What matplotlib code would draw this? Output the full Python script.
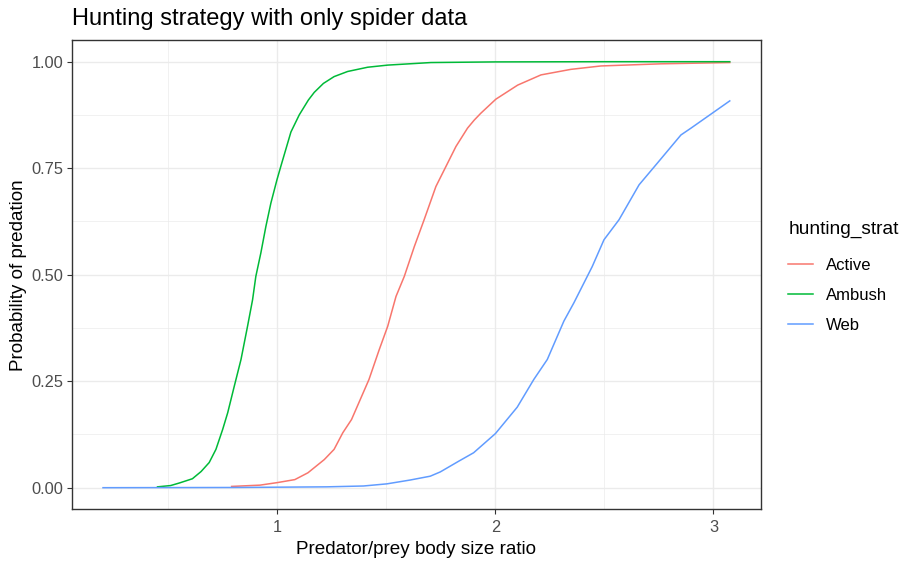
import matplotlib
matplotlib.use("Agg")
import matplotlib.pyplot as plt
from matplotlib.ticker import MultipleLocator, FormatStrFormatter

plt.rcParams['font.family'] = ['Liberation Sans', 'DejaVu Sans']

# values
active_x = [0.79, 0.92, 1.00, 1.08, 1.14, 1.215, 1.26, 1.30, 1.34, 1.38, 1.42, 1.467,
            1.506, 1.544, 1.582, 1.628, 1.673, 1.727, 1.773, 1.819, 1.872, 1.903,
            1.933, 2.002, 2.102, 2.209, 2.346, 2.484, 2.759, 3.075]
active_y = [0.003, 0.006, 0.012, 0.019, 0.035, 0.066, 0.090, 0.129, 0.160, 0.207, 0.254,
            0.324, 0.379, 0.449, 0.496, 0.566, 0.629, 0.707, 0.754, 0.801, 0.844,
            0.863, 0.879, 0.912, 0.945, 0.969, 0.982, 0.990, 0.995, 0.998]

ambush_x = [0.45, 0.51, 0.55, 0.61, 0.65, 0.687, 0.718, 0.749, 0.772, 0.802, 0.833,
            0.863, 0.886, 0.901, 0.924, 0.947, 0.970, 0.998, 1.016, 1.062, 1.100,
            1.142, 1.169, 1.211, 1.260, 1.322, 1.414, 1.506, 1.704, 2.0, 2.5, 3.075]
ambush_y = [0.002, 0.005, 0.011, 0.021, 0.038, 0.059, 0.090, 0.137, 0.176, 0.238, 0.301,
            0.379, 0.441, 0.496, 0.551, 0.613, 0.668, 0.723, 0.755, 0.835, 0.875,
            0.910, 0.928, 0.949, 0.965, 0.977, 0.987, 0.992, 0.998, 0.9995, 1.0, 1.0]

web_x = [0.20, 0.80, 1.226, 1.395, 1.502, 1.609, 1.701, 1.747, 1.831, 1.900, 2.000,
         2.100, 2.176, 2.238, 2.314, 2.360, 2.444, 2.498, 2.567, 2.659, 2.743,
         2.851, 2.897, 3.075]
web_y = [0.0, 0.0005, 0.002, 0.004, 0.009, 0.018, 0.027, 0.037, 0.062, 0.082, 0.127,
         0.189, 0.254, 0.301, 0.391, 0.434, 0.519, 0.582, 0.629, 0.711, 0.762,
         0.828, 0.844, 0.908]

strategies = ['Active', 'Ambush', 'Web']
colors = ['#F8766D', '#00BA38', '#619CFF']

fig = plt.figure(figsize=(9.05, 5.61), dpi=100)
ax = fig.add_axes([0.0792, 0.0927, 0.7618, 0.8353])

for name, xs, ys, c in zip(strategies, [active_x, ambush_x, web_x],
                           [active_y, ambush_y, web_y], colors):
    ax.plot(xs, ys, color=c, lw=1.1, label=name, zorder=3)

xmin, xmax = 0.20, 3.075
pad = (xmax - xmin) * 0.05
ax.set_xlim(xmin - pad, xmax + pad)
ax.set_ylim(-0.05, 1.05)

ax.xaxis.set_major_locator(MultipleLocator(1))
ax.xaxis.set_minor_locator(MultipleLocator(0.5))
ax.yaxis.set_major_locator(MultipleLocator(0.25))
ax.yaxis.set_minor_locator(MultipleLocator(0.125))
ax.yaxis.set_major_formatter(FormatStrFormatter('%.2f'))

ax.grid(which='major', color='#EBEBEB', lw=1.0, zorder=0)
ax.grid(which='minor', color='#EBEBEB', lw=0.5, zorder=0)
ax.set_axisbelow(True)
for s in ax.spines.values():
    s.set_color('#333333')
    s.set_linewidth(1.0)
ax.tick_params(which='major', length=3.6, width=0.8, color='#333333',
               labelsize=11.8, labelcolor='#4D4D4D', pad=2.5)
ax.tick_params(axis='x', which='major', pad=4)
ax.tick_params(which='minor', length=0)

ax.set_xlabel('Predator/prey body size ratio', fontsize=13.6, color='black', labelpad=4.5)
ax.set_ylabel('Probability of predation', fontsize=13.6, color='black', labelpad=3)
fig.text(0.0792, 0.955, 'Hunting strategy with only spider data', fontsize=17,
         ha='left', va='baseline')

leg = ax.legend(loc='upper left', bbox_to_anchor=(1.03, 0.629), frameon=False,
                title='hunting_strat', fontsize=12, title_fontsize=13.8,
                handlelength=1.5, handletextpad=0.75, labelspacing=0.9,
                borderaxespad=0)
leg._legend_box.align = 'left'
leg._legend_box.sep = 14

fig.savefig('out.png', dpi=100)
